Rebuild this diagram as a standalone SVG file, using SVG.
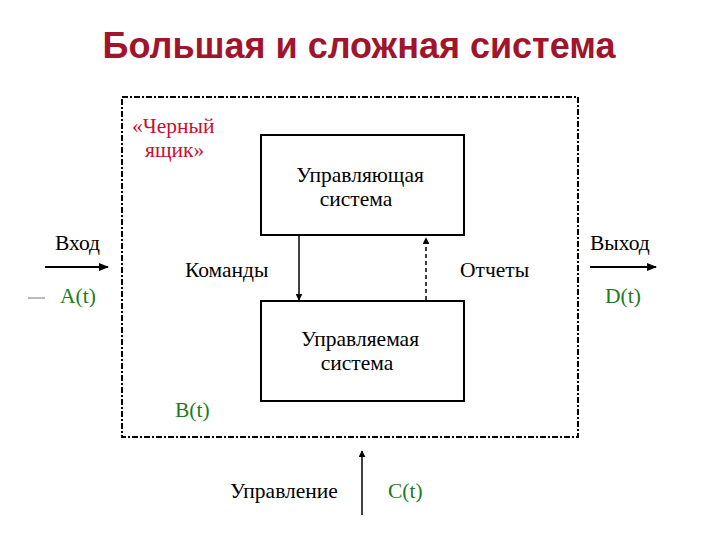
<svg xmlns="http://www.w3.org/2000/svg" width="720" height="540" viewBox="0 0 720 540">
<style>
.t{font-family:"Liberation Serif","DejaVu Serif",serif;font-size:21.5px;fill:#000}
.g{fill:#1E7B1E}
.r{fill:#C8102E}
.box{fill:#fff;stroke:#000;stroke-width:2}
.ln{stroke:#000;stroke-width:1.5;fill:none}
</style>
<defs>
<marker id="ah" viewBox="0 0 10 10" refX="9" refY="5" markerWidth="7" markerHeight="7" markerUnits="userSpaceOnUse" orient="auto"><path d="M0,0 L10,5 L0,10 z" fill="#000"/></marker>
<marker id="ah2" viewBox="0 0 10 10" refX="9" refY="5" markerWidth="10" markerHeight="10" markerUnits="userSpaceOnUse" orient="auto"><path d="M0,1 L10,5 L0,9 z" fill="#000"/></marker>
</defs>
<rect width="720" height="540" fill="#fff"/>
<text x="359" y="58" text-anchor="middle" style="font-family:'Liberation Sans','DejaVu Sans',sans-serif;font-size:36px;font-weight:bold;fill:#A0142C">Большая и сложная система</text>
<g id="blackbox">
<rect x="122" y="97" width="456" height="340" fill="none" stroke="#000" stroke-width="2" stroke-dasharray="6,2,2,2"/>
<text class="t r" x="132" y="133">«Черный</text>
<text class="t r" x="145" y="157">ящик»</text>
<text class="t g" x="175" y="417">B(t)</text>
</g>
<g id="controlling">
<rect class="box" x="261" y="135" width="203" height="100"/>
<text class="t" x="360" y="182" text-anchor="middle">Управляющая</text>
<text class="t" x="356" y="206" text-anchor="middle">система</text>
</g>
<g id="controlled">
<rect class="box" x="261" y="301" width="203" height="100"/>
<text class="t" x="360" y="346" text-anchor="middle">Управляемая</text>
<text class="t" x="357" y="370" text-anchor="middle">система</text>
</g>
<g id="connectors">
<line class="ln" x1="299" y1="235" x2="299" y2="300" marker-end="url(#ah)"/>
<line class="ln" x1="426" y1="300" x2="426" y2="238" stroke-dasharray="4,3" marker-end="url(#ah)"/>
<line x1="45" y1="267" x2="108" y2="267" stroke="#000" stroke-width="2" marker-end="url(#ah2)"/>
<line x1="590" y1="267" x2="656" y2="267" stroke="#000" stroke-width="2" marker-end="url(#ah2)"/>
<line class="ln" x1="362" y1="515" x2="362" y2="451" marker-end="url(#ah)"/>
<line x1="28" y1="298" x2="45" y2="298" stroke="#777" stroke-width="1"/>
</g>
<g id="labels">
<text class="t" x="55" y="250">Вход</text>
<text class="t" x="590" y="250">Выход</text>
<text class="t g" x="60" y="303">A(t)</text>
<text class="t g" x="605" y="303">D(t)</text>
<text class="t" x="185" y="277">Команды</text>
<text class="t" x="460" y="277">Отчеты</text>
<text class="t" x="230" y="498">Управление</text>
<text class="t g" x="388" y="498">C(t)</text>
</g>
</svg>
